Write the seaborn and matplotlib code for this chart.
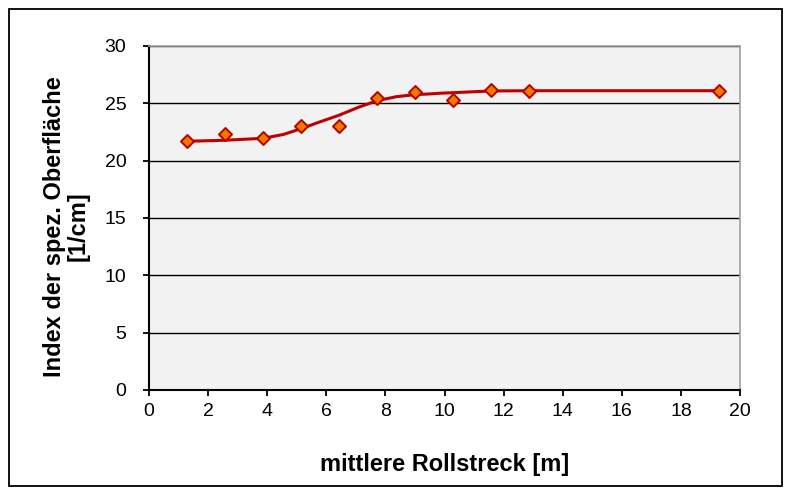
import matplotlib
matplotlib.use("Agg")
import matplotlib.pyplot as plt
import seaborn as sns
import pandas as pd
from matplotlib.patches import Rectangle

# measured points
roll_x = [1.29, 2.57, 3.86, 5.14, 6.43, 7.71, 9.0, 10.29, 11.57, 12.86, 19.29]
index_y = [21.7, 22.3, 22.0, 23.0, 23.0, 25.45, 26.0, 25.3, 26.2, 26.1, 26.1]

# fitted curve
curve_x = [1.29, 2.57, 3.86, 4.54, 5.16, 5.79, 6.44, 7.08, 7.72, 8.37, 9.01, 9.5, 9.84, 10.3, 11.6, 12.9, 19.3]
curve_y = [21.69, 21.78, 21.95, 22.28, 22.8, 23.39, 23.97, 24.65, 25.23, 25.58, 25.76, 25.82, 25.88, 25.93, 26.08, 26.1, 26.1]

x_ticks = [0, 2, 4, 6, 8, 10, 12, 14, 16, 18, 20]
y_ticks = [0, 5, 10, 15, 20, 25, 30]

x_label = "mittlere Rollstreck [m]"
y_label = "Index der spez. Oberfläche\n[1/cm]"

sns.set_style("white")
plt.rcParams["font.family"] = ["Liberation Sans", "DejaVu Sans"]
plt.rcParams["text.color"] = "black"
plt.rcParams["axes.labelcolor"] = "black"

fig = plt.figure(figsize=(7.9, 4.95), dpi=100)
ax = fig.add_axes([149 / 790, 1 - 390 / 495, (740 - 149) / 790, (390 - 46) / 495])
ax.set_facecolor("#F2F2F2")

pts = pd.DataFrame({"x": roll_x, "y": index_y})
fit = pd.DataFrame({"x": curve_x, "y": curve_y})

sns.lineplot(data=fit, x="x", y="y", ax=ax, color="#C00000", linewidth=2.2,
             sort=True, estimator=None, zorder=3)
sns.scatterplot(data=pts, x="x", y="y", ax=ax, marker="D", s=44,
                color="#F07800", edgecolor="#B80000", linewidth=1.4, zorder=4)

ax.set_xlim(0, 20)
ax.set_ylim(0, 30)
ax.set_xticks(x_ticks)
ax.set_yticks(y_ticks)
ax.set_xticklabels([str(t) for t in x_ticks])
ax.set_yticklabels([str(t) for t in y_ticks])
ax.yaxis.grid(True, color="black", linewidth=1.0)
ax.set_axisbelow(True)

for s in ["left", "bottom"]:
    ax.spines[s].set_color("black")
    ax.spines[s].set_linewidth(1.5)
for s in ["top", "right"]:
    ax.spines[s].set_color("#A0A0A0")
    ax.spines[s].set_linewidth(1.2)

ax.tick_params(axis="both", direction="out", length=4.3, width=1.3, color="black",
               labelsize=14, labelcolor="black", left=True, bottom=True)
ax.tick_params(axis="x", pad=5)
ax.tick_params(axis="y", pad=12)

ax.set_xlabel(x_label, fontsize=17, fontweight="bold", labelpad=24)
ax.set_ylabel(y_label, fontsize=17, fontweight="bold", labelpad=11,
              multialignment="center", linespacing=1.0)
ax.yaxis.label.set_y(0.476)

fig.patches.append(Rectangle((9 / 790, 9 / 495), (782 - 9) / 790, (486 - 9) / 495,
                             transform=fig.transFigure, fill=False,
                             edgecolor="black", linewidth=1.3))

fig.savefig("out.png", dpi=100)
